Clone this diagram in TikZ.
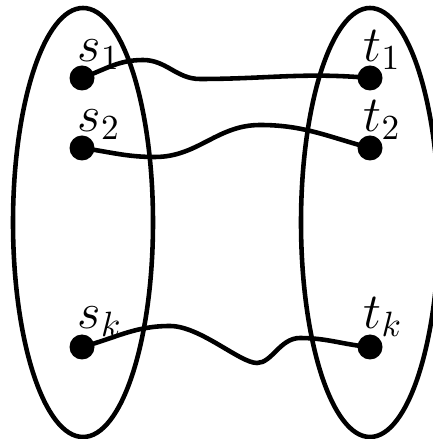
\documentclass[tikz,border=0pt]{standalone}
\usepackage{amsmath,amssymb}
\usepackage{tikz}
\usetikzlibrary{calc,positioning}

\begin{document}
\begin{tikzpicture}[every node/.style={font=\Large},
  dot/.style={circle,fill=black,inner sep=0pt,minimum size=2.5mm},
  lbl/.style={anchor=base west,inner sep=0pt},
  wire/.style={line width=1.3pt,line cap=round},
  part/.style={line width=1.3pt}]
  \useasboundingbox (0,0) rectangle (4.32,4.39);
  \draw[part] (0.83,2.165) ellipse [x radius=0.70,y radius=2.145];
  \draw[part] (3.70,2.165) ellipse [x radius=0.69,y radius=2.145];
  \node[dot] (s1) at (0.82,3.61) {};
  \node[dot] (s2) at (0.82,2.91) {};
  \node[dot] (sk) at (0.82,0.92) {};
  \node[dot] (t1) at (3.70,3.61) {};
  \node[dot] (t2) at (3.70,2.91) {};
  \node[dot] (tk) at (3.70,0.92) {};
  \node[lbl] (ls1) at ($(s1)+(-0.05,0.16)$) {$s_1$};
  \node[lbl] (ls2) at ($(s2)+(-0.05,0.16)$) {$s_2$};
  \node[lbl] (lsk) at ($(sk)+(-0.05,0.18)$) {$s_k$};
  \node[lbl] (lt1) at ($(t1)+(-0.07,0.16)$) {$t_1$};
  \node[lbl] (lt2) at ($(t2)+(-0.07,0.16)$) {$t_2$};
  \node[lbl] (ltk) at ($(tk)+(-0.07,0.18)$) {$t_k$};
  \draw[wire] (s1.center) to[out=20,in=180] (1.43,3.79) to[out=0,in=180] (2.00,3.60) to[out=0,in=175] (t1.center);
  \draw[wire] (s2.center) to[out=-8,in=180] (1.55,2.82) to[out=0,in=180] (2.60,3.14) to[out=0,in=165] (t2.center);
  \draw[wire] (sk.center) to[out=15,in=180] (1.70,1.13) .. controls (2.00,1.13) and (2.40,0.76) .. (2.57,0.76)
    .. controls (2.72,0.76) and (2.80,1.01) .. (3.00,1.01) to[out=0,in=175] (tk.center);
\end{tikzpicture}
\end{document}
